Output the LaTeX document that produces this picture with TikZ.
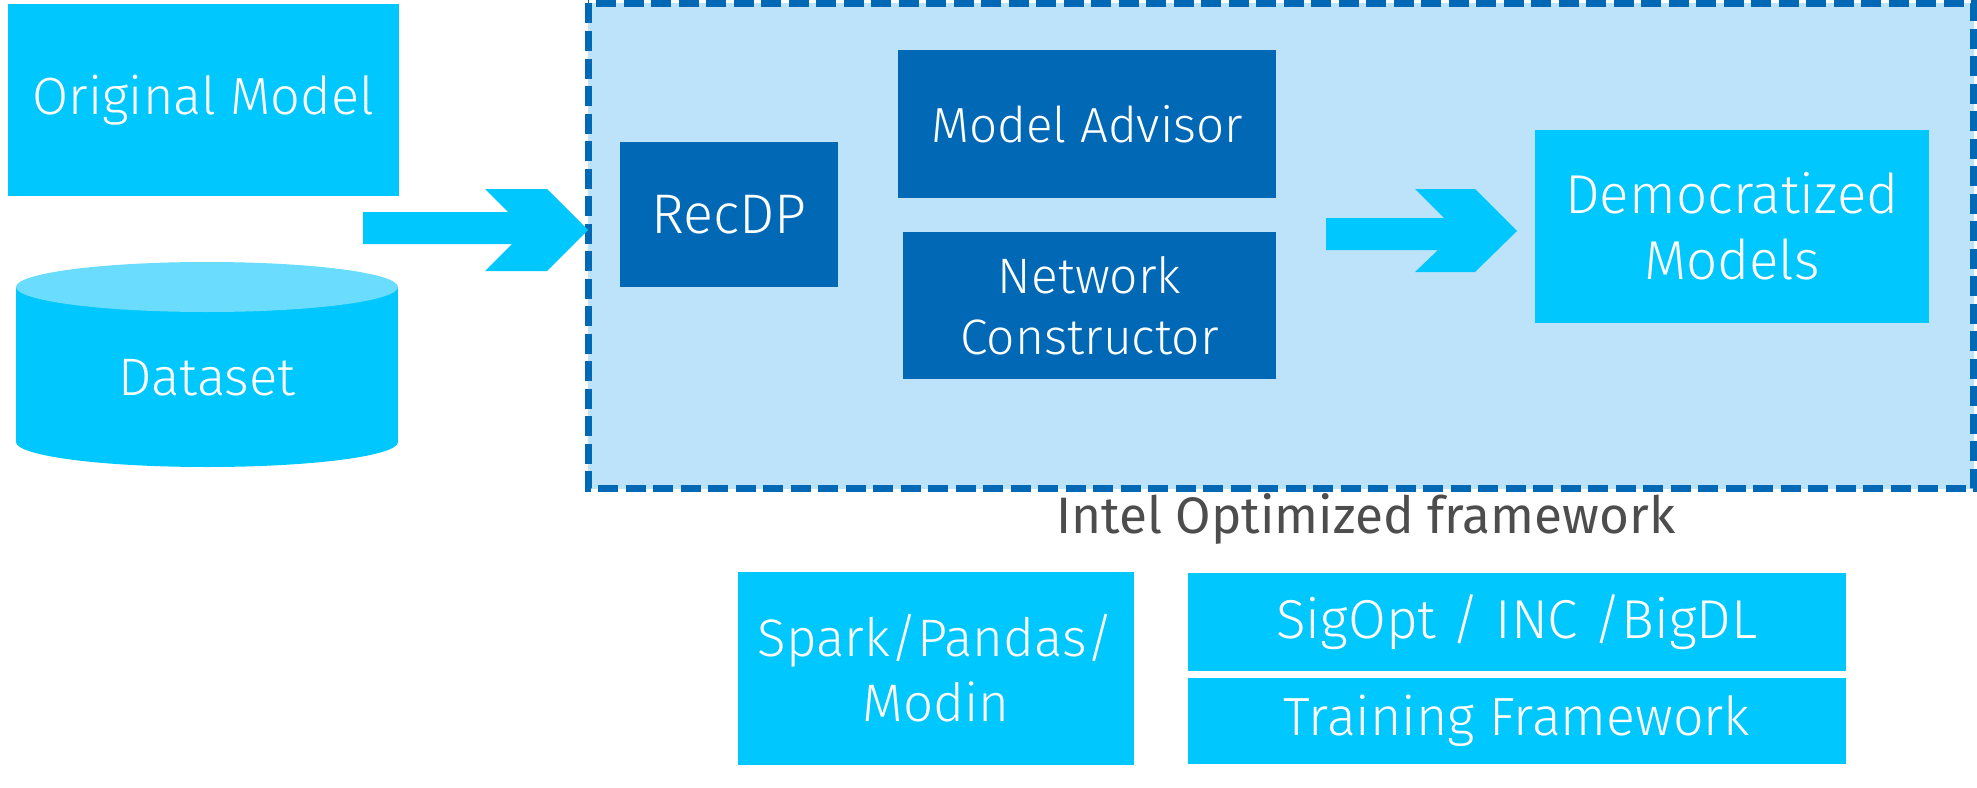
\documentclass[tikz,border=0pt]{standalone}
\usepackage{fontspec}
\newfontfamily\lightfont{Fira Sans Light}
\newfontfamily\regfont{Fira Sans}
\definecolor{icyan}{HTML}{00C7FD}
\definecolor{itop}{HTML}{6ADCFE}
\definecolor{iblue}{HTML}{0068B5}
\definecolor{ilight}{HTML}{BDE3FB}
\definecolor{igray}{HTML}{4D4D4D}
\tikzset{
  box/.style={inner sep=0pt, text=white, align=center, font=\lightfont\fontsize{52}{64}\selectfont},
  cyanbox/.style={box, fill=icyan},
  bluebox/.style={box, fill=iblue},
}
\begin{document}
\begin{tikzpicture}[x=1bp,y=-1bp]
\useasboundingbox (0,0) rectangle (1977,788);
% framework container
\fill[ilight] (588,3.5) rectangle (1973.5,488.5);
\draw[iblue, line width=7bp, dash pattern=on 20bp off 7.5bp] (588,3.5) rectangle (1973.5,488.5);
% left inputs
\node[cyanbox, minimum width=391bp, minimum height=192bp, font=\lightfont\fontsize{52.5}{64}\selectfont] (orig) at (203.5,100) {Original Model};
\fill[icyan] (16,287) rectangle (398,442);
\fill[icyan] (207,442) ellipse [x radius=191, y radius=25];
\fill[itop] (207,287) ellipse [x radius=191, y radius=25];
\node[box, font=\lightfont\fontsize{53}{64}\selectfont] (data) at (207,378) {Dataset};
% arrow into framework
\fill[icyan] (363,212) -- (508,212) -- (485,189) -- (547,189) -- (588,230) -- (547,271) -- (485,271) -- (512,244) -- (363,244) -- cycle;
% inner boxes
\node[bluebox, minimum width=218bp, minimum height=145bp, font=\lightfont\fontsize{56}{64}\selectfont] (recdp) at (729,214.5) {RecDP};
\node[bluebox, minimum width=378bp, minimum height=148bp, font=\lightfont\fontsize{49.5}{64}\selectfont] (advisor) at (1087,124) {Model Advisor};
\node[bluebox, minimum width=373bp, minimum height=147bp, font=\lightfont\fontsize{50}{61}\selectfont] (netcon) at (1089.5,305.5) {Network\\Constructor};
% arrow to output
\fill[icyan] (1326,218) -- (1444,218) -- (1415,189) -- (1475,189) -- (1517,231) -- (1475,272) -- (1415,272) -- (1438,250) -- (1326,250) -- cycle;
\node[cyanbox, minimum width=394bp, minimum height=193bp, font=\lightfont\fontsize{55}{66}\selectfont] (demo) at (1732,226.5) {Democratized\\Models};
% framework label
\node[inner sep=0pt, text=igray, font=\regfont\fontsize{51.5}{60}\selectfont] (label) at (1366,519) {Intel Optimized framework};
% bottom stack
\node[cyanbox, minimum width=396bp, minimum height=193bp, font=\lightfont\fontsize{53}{66}\selectfont] (spark) at (936,668) {Spark/Pandas/\\Modin};
\node[cyanbox, minimum width=658bp, minimum height=98bp, font=\lightfont\fontsize{55}{64}\selectfont] (sigopt) at (1517,622) {SigOpt / INC /BigDL};
\node[cyanbox, minimum width=658bp, minimum height=86bp, font=\lightfont\fontsize{54}{64}\selectfont] (train) at (1517,721) {Training Framework};
\end{tikzpicture}
\end{document}
